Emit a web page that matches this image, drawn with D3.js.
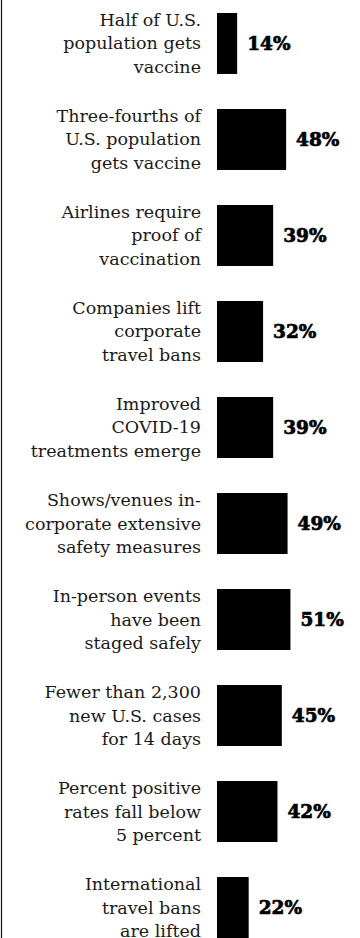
<!DOCTYPE html>
<html>
<head>
<meta charset="utf-8">
<script src="https://cdn.jsdelivr.net/npm/d3@7"></script>
<style>
  html, body { margin: 0; padding: 0; background: #fff; }
  svg { display: block; }
</style>
</head>
<body>
<svg id="chart" width="360" height="938"></svg>
<script>
// Conditions, each split into the lines it is set on
const categories = [
  ["Half of U.S.", "population gets", "vaccine"],
  ["Three-fourths of", "U.S. population", "gets vaccine"],
  ["Airlines require", "proof of", "vaccination"],
  ["Companies lift", "corporate", "travel bans"],
  ["Improved", "COVID-19", "treatments emerge"],
  ["Shows/venues in-", "corporate extensive", "safety measures"],
  ["In-person events", "have been", "staged safely"],
  ["Fewer than 2,300", "new U.S. cases", "for 14 days"],
  ["Percent positive", "rates fall below", "5 percent"],
  ["International", "travel bans", "are lifted"]
];
// Share of respondents (%)
const values = [14, 48, 39, 32, 39, 49, 51, 45, 42, 22];

const svg = d3.select("#chart");
const barLeft = 217;
const pxPerPct = 1.44;

const x = d3.scaleLinear()
  .domain([0, d3.max(values)])
  .range([barLeft, barLeft + d3.max(values) * pxPerPct]);

const y = d3.scaleBand()
  .domain(d3.range(values.length))
  .range([13, 938])
  .paddingInner(0.365)
  .paddingOuter(0);

// left rule
svg.append("line")
  .attr("x1", 1.5).attr("x2", 1.5)
  .attr("y1", 0).attr("y2", 938)
  .attr("stroke", "#111").attr("stroke-width", 1.2);

const rows = svg.selectAll("g.row")
  .data(values.map((v, i) => ({ v, i, lines: categories[i] })))
  .join("g")
  .attr("class", "row");

rows.append("rect")
  .attr("x", x(0))
  .attr("y", d => y(d.i))
  .attr("width", d => x(d.v) - x(0))
  .attr("height", y.bandwidth())
  .attr("fill", "#000");

// heavy value labels
rows.append("text")
  .attr("class", "value")
  .attr("x", d => x(d.v) + 10)
  .attr("y", d => y(d.i) + y.bandwidth() / 2)
  .attr("dy", "0.36em")
  .attr("font-family", "'DejaVu Serif', serif")
  .attr("font-weight", "bold")
  .attr("font-size", 18.5)
  .attr("fill", "#000")
  .attr("stroke", "#000")
  .attr("stroke-width", 0.7)
  .text(d => d.v + "%");

const lineH = 23.5;
rows.append("text")
  .attr("class", "label")
  .attr("text-anchor", "end")
  .attr("font-family", "'DejaVu Serif', serif")
  .attr("font-size", 17.5)
  .attr("fill", "#1a1a1a")
  .each(function (d) {
    const t = d3.select(this);
    const cy = y(d.i) + y.bandwidth() / 2;
    d.lines.forEach((ln, k) => {
      t.append("tspan")
        .attr("x", 201)
        .attr("y", cy + (k - 1) * lineH + 6)
        .text(ln);
    });
  });
</script>
</body>
</html>
